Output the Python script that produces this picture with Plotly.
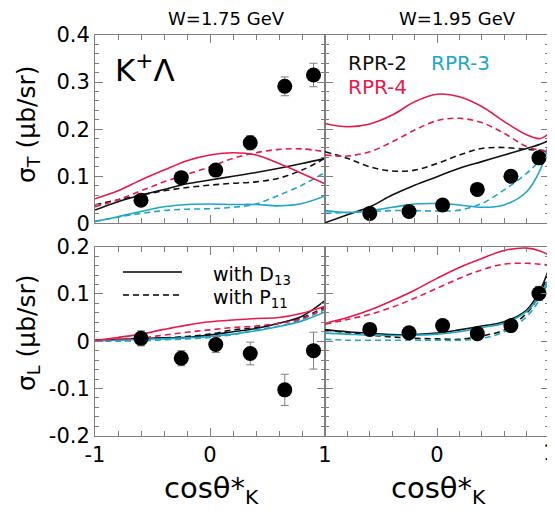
import plotly.graph_objects as go

# ---------------- data ----------------
X_CURVE_175 = [-1.0, -0.8, -0.6, -0.4, -0.2, 0.0, 0.2, 0.4, 0.6, 0.8, 1.0]
X_CURVE_195 = [-1.0, -0.8, -0.6, -0.4, -0.2, 0.0, 0.2, 0.4, 0.6, 0.8, 0.92, 1.0]

# sigma_T, W = 1.75 GeV
T175_RPR2_D13 = [0.028, 0.046, 0.060, 0.072, 0.084, 0.092, 0.100, 0.108, 0.117, 0.127, 0.138]
T175_RPR2_P11 = [0.039, 0.050, 0.060, 0.069, 0.076, 0.081, 0.085, 0.088, 0.096, 0.113, 0.138]
T175_RPR3_D13 = [0.004, 0.014, 0.025, 0.035, 0.040, 0.041, 0.040, 0.040, 0.037, 0.042, 0.058]
T175_RPR3_P11 = [0.004, 0.013, 0.021, 0.027, 0.030, 0.031, 0.034, 0.041, 0.060, 0.081, 0.108]
T175_RPR4_D13 = [0.052, 0.069, 0.092, 0.113, 0.133, 0.145, 0.150, 0.145, 0.127, 0.106, 0.084]
T175_RPR4_P11 = [0.035, 0.050, 0.069, 0.088, 0.104, 0.120, 0.138, 0.150, 0.157, 0.158, 0.152]

# sigma_T, W = 1.95 GeV
T195_RPR2_D13 = [0.001, 0.018, 0.035, 0.060, 0.081, 0.099, 0.117, 0.131, 0.145, 0.159, 0.168, 0.176]
T195_RPR2_P11 = [0.152, 0.138, 0.120, 0.111, 0.113, 0.127, 0.145, 0.159, 0.161, 0.157, 0.155, 0.154]
T195_RPR3_D13 = [0.027, 0.023, 0.027, 0.034, 0.041, 0.042, 0.039, 0.034, 0.039, 0.067, 0.113, 0.170]
T195_RPR3_P11 = [0.021, 0.023, 0.025, 0.027, 0.027, 0.026, 0.028, 0.042, 0.071, 0.106, 0.135, 0.163]
T195_RPR4_D13 = [0.212, 0.205, 0.211, 0.230, 0.258, 0.274, 0.269, 0.248, 0.216, 0.188, 0.180, 0.191]
T195_RPR4_P11 = [0.145, 0.143, 0.152, 0.173, 0.198, 0.218, 0.223, 0.214, 0.191, 0.163, 0.155, 0.152]

# sigma_L, W = 1.75 GeV
L175_RPR2_D13 = [0.002, 0.004, 0.006, 0.007, 0.008, 0.013, 0.020, 0.027, 0.038, 0.053, 0.086]
L175_RPR2_P11 = [0.002, 0.003, 0.004, 0.007, 0.010, 0.015, 0.024, 0.029, 0.038, 0.050, 0.072]
L175_RPR3_D13 = [0.001, 0.002, 0.004, 0.005, 0.007, 0.010, 0.015, 0.022, 0.031, 0.043, 0.062]
L175_RPR3_P11 = [0.000, 0.000, 0.001, 0.003, 0.005, 0.008, 0.014, 0.024, 0.032, 0.046, 0.067]
L175_RPR4_D13 = [0.002, 0.008, 0.015, 0.025, 0.034, 0.041, 0.045, 0.048, 0.050, 0.059, 0.074]
L175_RPR4_P11 = [0.002, 0.004, 0.007, 0.013, 0.019, 0.024, 0.029, 0.032, 0.038, 0.048, 0.070]

# sigma_L, W = 1.95 GeV
L195_RPR2_D13 = [0.024, 0.020, 0.017, 0.014, 0.014, 0.017, 0.024, 0.032, 0.041, 0.066, 0.108, 0.154]
L195_RPR2_P11 = [0.024, 0.018, 0.013, 0.009, 0.006, 0.005, 0.004, 0.011, 0.024, 0.059, 0.101, 0.147]
L195_RPR3_D13 = [0.017, 0.015, 0.013, 0.012, 0.013, 0.015, 0.020, 0.029, 0.038, 0.063, 0.097, 0.133]
L195_RPR3_P11 = [0.004, 0.002, 0.002, 0.002, 0.002, 0.002, 0.002, 0.006, 0.020, 0.052, 0.090, 0.129]
L195_RPR4_D13 = [0.038, 0.050, 0.066, 0.086, 0.108, 0.133, 0.156, 0.175, 0.192, 0.197, 0.191, 0.182]
L195_RPR4_P11 = [0.036, 0.046, 0.057, 0.072, 0.091, 0.112, 0.133, 0.151, 0.163, 0.165, 0.163, 0.161]

# data points
PT_X_175 = [-0.6, -0.25, 0.05, 0.35, 0.65, 0.9]
PT_X_195 = [-0.6, -0.25, 0.05, 0.36, 0.66, 0.91]
T175_Y = [0.049, 0.097, 0.113, 0.171, 0.291, 0.315]
T175_ERR = [0.008, 0.008, 0.010, 0.015, 0.020, 0.025]
T195_Y = [0.021, 0.025, 0.039, 0.072, 0.100, 0.139]
T195_ERR = [0.004, 0.004, 0.005, 0.006, 0.008, 0.012]
L175_Y = [0.006, -0.036, -0.007, -0.026, -0.103, -0.020]
L175_ERR = [0.016, 0.016, 0.017, 0.024, 0.033, 0.039]
L195_Y = [0.025, 0.018, 0.033, 0.016, 0.033, 0.101]
L195_ERR = [0.006, 0.006, 0.008, 0.008, 0.010, 0.015]

X_TICKS_LEFT = [-1, 0, 1]
X_TICKTEXT_LEFT = ["-1", "0", "1"]
X_TICKS_RIGHT = [0, 1]
X_TICKTEXT_RIGHT = ["0", ""]
X_EDGE_LABEL = "1"  # right-most tick label of the lower right panel, at x = 1
TOP_TICKS = [0, 0.1, 0.2, 0.3, 0.4]
TOP_TICKTEXT = ["0", "0.1", "0.2", "0.3", "0.4"]
BOT_TICKS = [-0.2, -0.1, 0, 0.1, 0.2]
BOT_TICKTEXT = ["-0.2", "-0.1", "0", "0.1", "0.2"]

# ---------------- style ----------------
BLACK = "#111111"
CYAN = "#1ea6c6"
RED = "#e8194a"
GRAY = "#7f7f7f"
FONT = "DejaVu Sans"
W, H = 555, 515
OFF = 8  # the page body margin offsets the figure by 8 px


def sx(px):
    return (px - OFF) / W


def sy(py):
    return 1 - (py - OFF) / H


fig = go.Figure()

panels = [
    ("x", "y", X_CURVE_175, [(T175_RPR2_D13, T175_RPR2_P11, BLACK),
                             (T175_RPR3_D13, T175_RPR3_P11, CYAN),
                             (T175_RPR4_D13, T175_RPR4_P11, RED)], PT_X_175, T175_Y, T175_ERR),
    ("x2", "y2", X_CURVE_195, [(T195_RPR2_D13, T195_RPR2_P11, BLACK),
                               (T195_RPR3_D13, T195_RPR3_P11, CYAN),
                               (T195_RPR4_D13, T195_RPR4_P11, RED)], PT_X_195, T195_Y, T195_ERR),
    ("x3", "y3", X_CURVE_175, [(L175_RPR2_D13, L175_RPR2_P11, BLACK),
                               (L175_RPR3_D13, L175_RPR3_P11, CYAN),
                               (L175_RPR4_D13, L175_RPR4_P11, RED)], PT_X_175, L175_Y, L175_ERR),
    ("x4", "y4", X_CURVE_195, [(L195_RPR2_D13, L195_RPR2_P11, BLACK),
                               (L195_RPR3_D13, L195_RPR3_P11, CYAN),
                               (L195_RPR4_D13, L195_RPR4_P11, RED)], PT_X_195, L195_Y, L195_ERR),
]

for xa, ya, xc, curves, px, py, pe in panels:
    for d13, p11, col in curves:
        fig.add_trace(go.Scatter(x=xc, y=d13, mode="lines", xaxis=xa, yaxis=ya,
                                 line=dict(color=col, width=1.6, shape="spline", smoothing=1.0),
                                 showlegend=False, hoverinfo="skip"))
        fig.add_trace(go.Scatter(x=xc, y=p11, mode="lines", xaxis=xa, yaxis=ya,
                                 line=dict(color=col, width=1.6, dash="6px,4px", shape="spline", smoothing=1.0),
                                 showlegend=False, hoverinfo="skip"))
    fig.add_trace(go.Scatter(x=px, y=py, mode="markers", xaxis=xa, yaxis=ya,
                             marker=dict(color="black", size=15),
                             error_y=dict(type="data", array=pe, color=GRAY, thickness=1, width=4),
                             showlegend=False))

XL = [sx(95), sx(325)]
XR = [sx(325), sx(549)]
YT = [sy(223.3), sy(35)]
YB = [sy(435.7), sy(246.7)]
TICKFONT = dict(family=FONT, size=21, color="black")


def xaxis(domain, anchor, labels, tv, tt):
    return dict(domain=domain, anchor=anchor, range=[-1, 1], automargin=False,
                showline=True, linecolor=GRAY, linewidth=1, mirror="allticks",
                ticks="inside", ticklen=8, tickcolor=GRAY,
                tickmode="array", tickvals=tv, ticktext=tt,
                showticklabels=labels, showgrid=False, zeroline=False,
                tickfont=TICKFONT,
                minor=dict(tickmode="linear", tick0=-1, dtick=0.2, ticks="inside",
                           ticklen=5, tickcolor=GRAY, showgrid=False))


def yaxis(domain, anchor, rng, tv, tt, labels):
    return dict(domain=domain, anchor=anchor, range=rng, automargin=False,
                showline=True, linecolor=GRAY, linewidth=1, mirror="allticks",
                ticks="inside", ticklen=8, tickcolor=GRAY,
                tickmode="array", tickvals=tv, ticktext=tt,
                showticklabels=labels, showgrid=False, zeroline=False,
                tickfont=TICKFONT,
                minor=dict(tickmode="linear", tick0=0, dtick=0.02, ticks="inside",
                           ticklen=4, tickcolor=GRAY, showgrid=False))


fig.update_layout(
    template="none",
    width=W, height=H,
    margin=dict(l=0, r=0, t=0, b=0),
    paper_bgcolor="white", plot_bgcolor="white",
    showlegend=False,
    xaxis=xaxis(XL, "y", False, X_TICKS_LEFT, X_TICKTEXT_LEFT),
    xaxis2=xaxis(XR, "y2", False, X_TICKS_LEFT, X_TICKTEXT_LEFT),
    xaxis3=xaxis(XL, "y3", True, X_TICKS_LEFT, X_TICKTEXT_LEFT),
    xaxis4=xaxis(XR, "y4", True, X_TICKS_RIGHT, X_TICKTEXT_RIGHT),
    yaxis=yaxis(YT, "x", [0, 0.4], TOP_TICKS, TOP_TICKTEXT, True),
    yaxis2=yaxis(YT, "x2", [0, 0.4], TOP_TICKS, TOP_TICKTEXT, False),
    yaxis3=yaxis(YB, "x3", [-0.2, 0.2], BOT_TICKS, BOT_TICKTEXT, True),
    yaxis4=yaxis(YB, "x4", [-0.2, 0.2], BOT_TICKS, BOT_TICKTEXT, False),
)

# right-most tick label of the lower right panel (placed at x = 1 of that axis)
fig.add_annotation(text=X_EDGE_LABEL, x=X_TICKS_RIGHT[-1], xref="x4", y=sy(453), yref="paper",
                   showarrow=False, xanchor="center", yanchor="middle",
                   font=TICKFONT)


def px_ann(text, x, y, size, color="black", xanchor="center", yanchor="middle", angle=0):
    fig.add_annotation(text=text, x=sx(x), y=sy(y), xref="paper", yref="paper",
                       showarrow=False, xanchor=xanchor, yanchor=yanchor, textangle=angle,
                       font=dict(family=FONT, size=size, color=color))


px_ann("W=1.75 GeV", 226, 19, 18)
px_ann("W=1.95 GeV", 457, 19, 18)
px_ann("K<sup>+</sup>Λ", 113, 68, 31, xanchor="left")
px_ann("RPR-2", 346, 63, 20, BLACK, xanchor="left")
px_ann("RPR-3", 429, 63, 20, CYAN, xanchor="left")
px_ann("RPR-4", 346, 87, 20, RED, xanchor="left")
px_ann("with D<sub>13</sub>", 211, 275, 19, xanchor="left")
px_ann("with P<sub>11</sub>", 211, 298, 19, xanchor="left")
px_ann("σ<sub>T</sub> (μb/sr)", 28, 124, 25, angle=-90)
px_ann("σ<sub>L</sub> (μb/sr)", 28, 333, 25, angle=-90)
px_ann("cosθ*<sub>K</sub>", 211, 490, 29)
px_ann("cosθ*<sub>K</sub>", 438, 490, 29)

# legend line keys
fig.add_shape(type="line", xref="paper", yref="paper",
              x0=sx(123), x1=sx(182), y0=sy(272), y1=sy(272),
              line=dict(color="black", width=1.6))
fig.add_shape(type="line", xref="paper", yref="paper",
              x0=sx(123), x1=sx(182), y0=sy(295), y1=sy(295),
              line=dict(color="black", width=1.6, dash="6px,4px"))

fig.write_html("out.html")
